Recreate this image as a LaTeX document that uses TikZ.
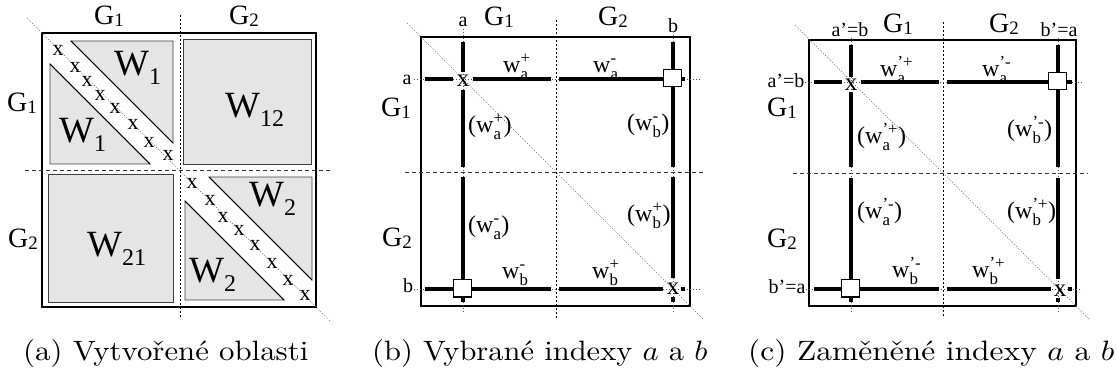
\documentclass[tikz,border=0pt]{standalone}
\usepackage{fontspec}
\usepackage{amsmath}
\newfontfamily\tm{Liberation Serif}
\newcommand\fs[1]{\fontsize{#1}{#1}\selectfont}
\newcommand\Wl[1]{W\raisebox{-9pt}{\fs{24}#1}}
\newcommand\Gl[1]{G\raisebox{-2pt}{\fs{19}#1}}
\newcommand\ws[2]{$\text{w}^{\text{#2}}_{\text{#1}}$}
\tikzset{
  frame/.style={draw=black, line width=1.8pt},
  graybox/.style={fill=black!10, draw=black!75, line width=0.8pt},
  hyp/.style={draw=black, line width=0.8pt},
  cdash/.style={draw=black!80, line width=0.9pt, dash pattern=on 4pt off 3pt},
  vdash/.style={draw=black, line width=0.9pt, dash pattern=on 2pt off 2pt},
  diag/.style={draw=black!60, line width=0.6pt, dash pattern=on 1pt off 1.5pt},
  ext/.style={draw=black!70, line width=0.6pt, dash pattern=on 1pt off 2pt},
  thk/.style={line width=4pt},
  sq/.style={draw, fill=white, line width=1pt, minimum width=18pt, minimum height=17pt, inner sep=0},
  xm/.style={font=\tm\fs{25}, inner sep=0},
  xa/.style={font=\tm\fs{22}, inner sep=0},
  lab/.style={font=\tm\fs{20}, inner sep=0, anchor=base},
  glab/.style={font=\tm\fs{28}, inner sep=0},
  wlab/.style={font=\tm\fs{24}, inner sep=0, anchor=base west},
  Wlab/.style={font=\tm\fs{37}, inner sep=0, anchor=base west},
  captext/.style={inner sep=0, anchor=base west}
}
\begin{document}
\begin{tikzpicture}[x=1pt,y=-1pt]
\useasboundingbox (0,0) rectangle (1117,374);
% ================= panel (a) =================
\filldraw[graybox] (71,41) -- (173,41) -- (173,143) -- cycle;
\draw[hyp] (71,41) -- (173,143);
\filldraw[graybox] (50,64) -- (50,164) -- (150,164) -- cycle;
\draw[hyp] (50,64) -- (150,164);
\filldraw[graybox] (183,39) rectangle (311,164);
\filldraw[graybox] (48,174) rectangle (173,302);
\filldraw[graybox] (209,177) -- (312,177) -- (312,280) -- cycle;
\draw[hyp] (209,177) -- (312,280);
\filldraw[graybox] (185,201) -- (185,300) -- (284,300) -- cycle;
\draw[hyp] (185,201) -- (284,300);
\draw[frame] (42,33) rectangle (316,307);
\draw[vdash] (180,15) -- (180,318);
\draw[cdash] (25,170) -- (330,170);
\draw[diag] (27,18) -- (330,321);
\foreach \p [count=\i] in {(58,50),(75,67),(87,81),(100,95),(115,108),(133,124),(149,142),(168,155),
  (192,183),(210,200),(223,217),(239,230),(255,245),(272,263),(288,280),(305,295)}
  \node[xa] (ax\i) at \p {x};
\node[Wlab] (aW1u) at (114,76) {\Wl{1}};
\node[Wlab] (aW1l) at (59,143) {\Wl{1}};
\node[Wlab] (aW12) at (225,118) {\Wl{12}};
\node[Wlab] (aW21) at (87,257) {\Wl{21}};
\node[Wlab] (aW2u) at (249,207) {\Wl{2}};
\node[Wlab] (aW2l) at (189,283) {\Wl{2}};
\node[glab] (aG1t) at (109,16) {\Gl{1}};
\node[glab] (aG2t) at (244,16) {\Gl{2}};
\node[glab] (aG1l) at (22,103) {\Gl{1}};
\node[glab] (aG2l) at (23,239) {\Gl{2}};
% ================= panel (b) =================
\draw[frame] (421,37) rectangle (690,306);
\draw[vdash] (556,20) -- (556,318);
\draw[cdash] (405,172) -- (703,172);
\draw[diag] (407,23) -- (703,319);
\draw[ext] (463,29) -- (463,312);
\draw[ext] (673,35) -- (673,312);
\draw[ext] (414,79) -- (700,79);
\draw[ext] (414,289) -- (700,289);
\draw[thk] (463,42) -- (463,72);
\draw[thk] (463,90) -- (463,167);
\draw[thk] (463,177) -- (463,302);
\draw[thk] (425,79) -- (453,79);
\draw[thk] (473,79) -- (551,79);
\draw[thk] (559,79) -- (685,79);
\draw[thk] (673,42) -- (673,167);
\draw[thk] (673,177) -- (673,278);
\draw[thk] (673,297) -- (673,302);
\draw[thk] (425,289) -- (551,289);
\draw[thk] (559,289) -- (663,289);
\draw[thk] (681,289) -- (685,289);
\node[sq] (bsq1) at (672,78.5) {};
\node[sq] (bsq2) at (462,288.5) {};
\node[xm] (bx1) at (463,81) {x};
\node[xm] (bx2) at (673,289) {x};
\node[lab] (bat) at (463,27) {a};
\node[lab] (bbt) at (673,33) {b};
\node[lab] (bal) at (407,85) {a};
\node[lab] (bbl) at (408,293) {b};
\node[glab] (bG1t) at (499,17) {\Gl{1}};
\node[glab] (bG2t) at (613,17) {\Gl{2}};
\node[glab] (bG1l) at (396,108) {\Gl{1}};
\node[glab] (bG2l) at (397,238) {\Gl{2}};
\node[wlab] (bw1) at (503,73) {\ws{a}{+}};
\node[wlab] (bw2) at (593,73) {\ws{a}{-}};
\node[wlab] (bw3) at (502,279) {\ws{b}{-}};
\node[wlab] (bw4) at (592,279) {\ws{b}{+}};
\node[wlab] (bw5) at (468,133) {(\ws{a}{+})};
\node[wlab] (bw6) at (627,131) {(\ws{b}{-})};
\node[wlab] (bw7) at (468,233) {(\ws{a}{-})};
\node[wlab] (bw8) at (627,222) {(\ws{b}{+})};
% ================= panel (c) =================
\draw[frame] (809,40) rectangle (1076,306);
\draw[vdash] (943,22) -- (943,318);
\draw[cdash] (793,173) -- (1088,173);
\draw[diag] (795,25) -- (1090,320);
\draw[ext] (851,38) -- (851,312);
\draw[ext] (1058,38) -- (1058,312);
\draw[ext] (805,82) -- (1082,82);
\draw[ext] (806,289) -- (1082,289);
\draw[thk] (851,45) -- (851,77);
\draw[thk] (851,92) -- (851,167);
\draw[thk] (851,178) -- (851,302);
\draw[thk] (814,82) -- (842,82);
\draw[thk] (861,82) -- (939,82);
\draw[thk] (947,82) -- (1072,82);
\draw[thk] (1058,45) -- (1058,167);
\draw[thk] (1058,178) -- (1058,279);
\draw[thk] (1058,298) -- (1058,302);
\draw[thk] (814,289) -- (939,289);
\draw[thk] (947,289) -- (1051,289);
\draw[thk] (1068,289) -- (1072,289);
\node[sq] (csq1) at (1057.5,81) {};
\node[sq] (csq2) at (850.5,288.5) {};
\node[xm] (cx1) at (851,85) {x};
\node[xm] (cx2) at (1060,291) {x};
\node[lab] (cat) at (850,37) {a’=b};
\node[lab] (cbt) at (1059,37) {b’=a};
\node[lab] (cal) at (786,88) {a’=b};
\node[lab] (cbl) at (787,294) {b’=a};
\node[glab] (cG1t) at (898,24) {\Gl{1}};
\node[glab] (cG2t) at (1004,24) {\Gl{2}};
\node[glab] (cG1l) at (782,108) {\Gl{1}};
\node[glab] (cG2l) at (782,239) {\Gl{2}};
\node[wlab] (cw1) at (880,77) {\ws{a}{’+}};
\node[wlab] (cw2) at (982,77) {\ws{a}{’-}};
\node[wlab] (cw3) at (892,278) {\ws{b}{’-}};
\node[wlab] (cw4) at (972,278) {\ws{b}{’+}};
\node[wlab] (cw5) at (857,144) {(\ws{a}{’+})};
\node[wlab] (cw6) at (1007,137) {(\ws{b}{’-})};
\node[wlab] (cw7) at (857,219) {(\ws{a}{’-})};
\node[wlab] (cw8) at (1007,219) {(\ws{b}{’+})};
% ================= captions =================
\node[captext] (capa) at (23,360) {\scalebox{3.08}[2.8]{(a) Vytvořené oblasti}};
\node[captext] (capb) at (372,360) {\scalebox{3.05}[2.8]{(b) Vybrané indexy $a$ a $b$}};
\node[captext] (capc) at (748,360) {\scalebox{3.15}[2.8]{(c) Zaměněné indexy $a$ a $b$}};
\end{tikzpicture}
\end{document}
